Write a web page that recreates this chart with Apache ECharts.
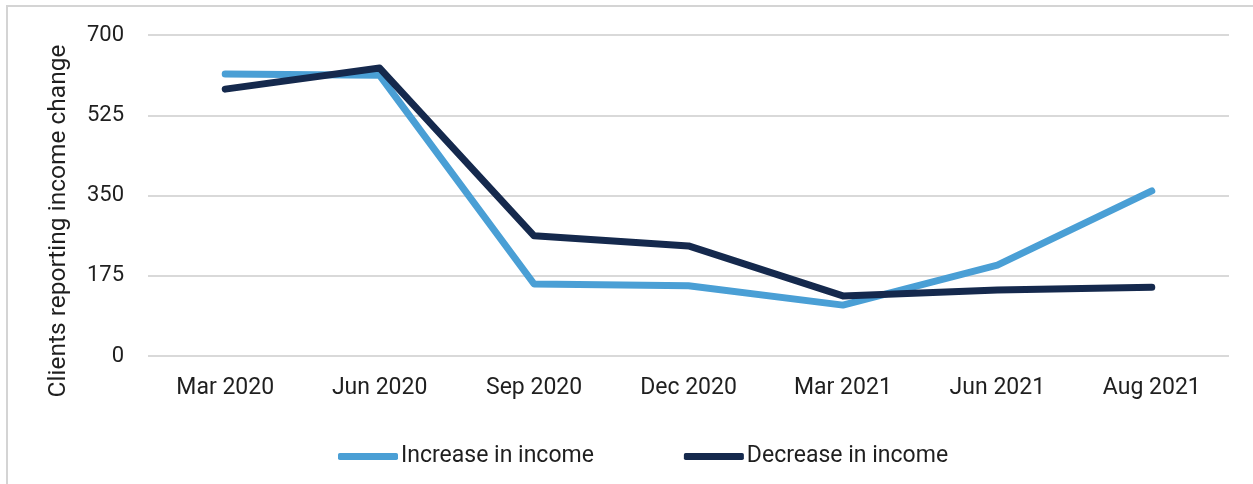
<!DOCTYPE html>
<html>
<head>
<meta charset="utf-8">
<script src="https://cdn.jsdelivr.net/npm/echarts@6/dist/echarts.min.js"></script>
<style>
  html, body { margin: 0; padding: 0; background: #fff; }
  #chart { width: 1253px; height: 484px; }
</style>
</head>
<body>
<div id="chart"></div>
<script>
// Quarterly client survey: how many clients reported a change in income
const periods = ['Mar 2020', 'Jun 2020', 'Sep 2020', 'Dec 2020', 'Mar 2021', 'Jun 2021', 'Aug 2021'];
const increaseInIncome = [615, 612, 157, 153, 111, 198, 360];
const decreaseInIncome = [582, 628, 262, 240, 131, 144, 150];
const yTicks = [0, 175, 350, 525, 700];

const FONT = 'Roboto, "Liberation Sans", sans-serif';
const TEXT = '#1f1f1f';
const LIGHT = '#4a9fd5';
const DARK = '#15294d';

const chart = echarts.init(document.getElementById('chart'), null, { renderer: 'canvas' });

chart.setOption({
  backgroundColor: '#ffffff',
  animation: false,
  textStyle: { fontFamily: FONT, color: TEXT },
  grid: { left: 148, right: 24, top: 35, bottom: 128, containLabel: false },
  graphic: [
    {
      // panel frame (top and left edges visible)
      type: 'rect',
      shape: { x: 7, y: 6, width: 1400, height: 600 },
      style: { fill: 'none', stroke: '#d4d4d4', lineWidth: 2 },
      silent: true
    },
    {
      type: 'text',
      x: 59, y: 221,
      rotation: Math.PI / 2,
      style: {
        text: 'Clients reporting income change',
        font: '24.5px ' + FONT,
        fill: TEXT,
        align: 'center',
        verticalAlign: 'middle'
      },
      silent: true
    }
  ],
  legend: {
    bottom: 11,
    left: 333,
    itemWidth: 60,
    itemHeight: 7,
    itemGap: 90,
    icon: 'roundRect',
    textStyle: { fontSize: 23, color: TEXT, fontFamily: FONT, padding: [0, 0, 0, -2] },
    data: ['Increase in income', 'Decrease in income']
  },
  xAxis: {
    type: 'category',
    data: periods,
    boundaryGap: true,
    axisLine: { show: false },
    axisTick: { show: false },
    axisLabel: { fontSize: 23, color: TEXT, margin: 21 }
  },
  yAxis: {
    type: 'value',
    min: yTicks[0],
    max: yTicks[yTicks.length - 1],
    interval: yTicks[1] - yTicks[0],
    axisLine: { show: false },
    axisTick: { show: false },
    axisLabel: { fontSize: 22, color: TEXT, margin: 24 },
    splitLine: { lineStyle: { color: '#d9d9d9', width: 2 } }
  },
  series: [
    {
      name: 'Increase in income',
      type: 'line',
      data: increaseInIncome,
      symbol: 'none',
      color: LIGHT,
      lineStyle: { color: LIGHT, width: 7, cap: 'round', join: 'round' },
      z: 2
    },
    {
      name: 'Decrease in income',
      type: 'line',
      data: decreaseInIncome,
      symbol: 'none',
      color: DARK,
      lineStyle: { color: DARK, width: 7, cap: 'round', join: 'round' },
      z: 3
    }
  ]
});
</script>
</body>
</html>
